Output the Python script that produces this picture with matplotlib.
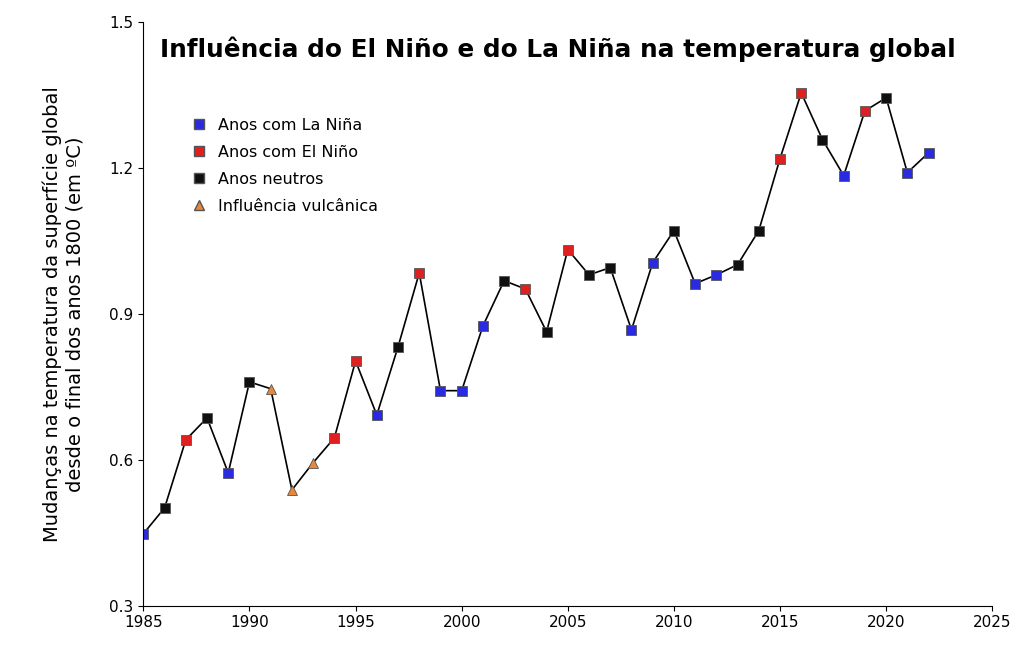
import matplotlib.pyplot as plt
from matplotlib.lines import Line2D

anos = list(range(1985, 2023))
temp = [0.448, 0.501, 0.641, 0.686, 0.573, 0.760, 0.746, 0.538, 0.594, 0.645,
        0.803, 0.692, 0.832, 0.984, 0.742, 0.742, 0.875, 0.968, 0.951, 0.863,
        1.032, 0.980, 0.995, 0.867, 1.005, 1.071, 0.962, 0.980, 1.001, 1.071,
        1.219, 1.354, 1.258, 1.184, 1.317, 1.344, 1.190, 1.231]
# L = La Niña, E = El Niño, N = neutro, V = vulcânico
tipo = list("LNENLNVVVEELNELLLNENENNLLNLLNNEENLENLL")

estilos = {
    'L': dict(marker='s', color='#2a2ae0', label='Anos com La Niña'),
    'E': dict(marker='s', color='#e02020', label='Anos com El Niño'),
    'N': dict(marker='s', color='#101010', label='Anos neutros'),
    'V': dict(marker='^', color='#e8873a', label='Influência vulcânica'),
}

fig = plt.figure(figsize=(10.24, 6.62), dpi=100)
ax = fig.add_axes([0.14, 0.085, 0.829, 0.882])
ax.plot(anos, temp, color='black', lw=1.2, zorder=1)
for a, t, k in zip(anos, temp, tipo):
    s = estilos[k]
    ax.plot(a, t, marker=s['marker'], color=s['color'], markersize=7.5,
            markeredgecolor='#555555', markeredgewidth=0.6, zorder=2)

ax.set_xlim(1985, 2025)
ax.set_ylim(0.3, 1.5)
ax.set_xticks(range(1985, 2026, 5))
ax.set_yticks([0.3, 0.6, 0.9, 1.2, 1.5])
ax.tick_params(labelsize=11)
ax.spines['top'].set_visible(False)
ax.spines['right'].set_visible(False)
ax.set_ylabel('Mudanças na temperatura da superfície global\ndesde o final dos anos 1800 (em ºC)',
              fontsize=14, labelpad=18)
ax.text(0.488, 0.94, 'Influência do El Niño e do La Niña na temperatura global',
        transform=ax.transAxes, ha='center', fontsize=17.8, fontweight='bold')

handles = [Line2D([], [], ls='none', marker=s['marker'], color=s['color'],
                  markeredgecolor='#555555', markersize=7.5, label=s['label'])
           for s in estilos.values()]
ax.legend(handles=handles, loc='upper left', bbox_to_anchor=(0.03, 0.86),
          frameon=False, fontsize=11.5, handletextpad=0.2, labelspacing=0.75)

fig.savefig('out.png')
